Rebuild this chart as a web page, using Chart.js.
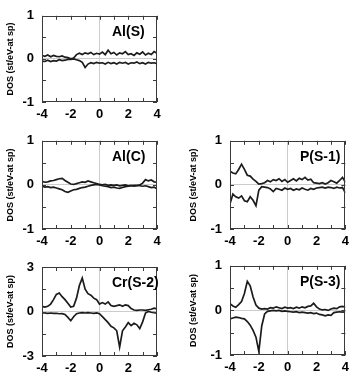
<!DOCTYPE html>
<html>
<head>
<meta charset="utf-8">
<script src="https://cdn.jsdelivr.net/npm/chart.js@4.4.1/dist/chart.umd.min.js"></script>
<style>
  body { margin: 0; background: #fff; }
  .panel { position: absolute; }
</style>
</head>
<body>
<div class="panel" style="left:0px;top:0px;width:175px;height:125px"><canvas id="alS"></canvas></div>
<div class="panel" style="left:0px;top:125px;width:175px;height:125px"><canvas id="alC"></canvas></div>
<div class="panel" style="left:0px;top:250px;width:175px;height:124px"><canvas id="crS2"></canvas></div>
<div class="panel" style="left:175px;top:125px;width:179px;height:125px"><canvas id="pS1"></canvas></div>
<div class="panel" style="left:175px;top:250px;width:179px;height:124px"><canvas id="pS3"></canvas></div>
<script>
// energy grid (eV), shared by every panel
const energy = [-4.0, -3.8, -3.6, -3.4, -3.2, -3.0, -2.8, -2.6, -2.4, -2.2, -2.0, -1.8, -1.6, -1.4, -1.2, -1.0, -0.8, -0.6, -0.4, -0.2,
  0.0, 0.2, 0.4, 0.6, 0.8, 1.0, 1.2, 1.4, 1.6, 1.8, 2.0, 2.2, 2.4, 2.6, 2.8, 3.0, 3.2, 3.4, 3.6, 3.8, 4.0];

const xTicks = [-4, -2, 0, 2, 4];
const yTicksSmall = [-1, 0, 1];
const yTicksCr = [-3, 0, 3];

// Al(S)
const alSUp = [0.08, 0.06, 0.09, 0.05, 0.08, 0.06, 0.05, 0.07, 0.04, 0.03, 0.0, 0.02, 0.1, 0.13, 0.1, 0.14, 0.12, 0.15, 0.1, 0.13,
  0.11, 0.16, 0.1, 0.2, 0.12, 0.15, 0.09, 0.14, 0.12, 0.17, 0.1, 0.12, 0.08, 0.14, 0.11, 0.16, 0.09, 0.13, 0.1, 0.17, 0.13];
const alSDown = [-0.05, -0.06, -0.03, -0.06, -0.04, -0.05, -0.02, -0.04, -0.03, -0.01, -0.01, 0.0, -0.02, -0.04, -0.08, -0.2, -0.12, -0.09, -0.11, -0.08,
  -0.1, -0.09, -0.12, -0.08, -0.11, -0.09, -0.12, -0.08, -0.1, -0.08, -0.12, -0.09, -0.1, -0.07, -0.11, -0.09, -0.12, -0.08, -0.1, -0.09, -0.11];

// Al(C)
const alCUp = [0.08, 0.06, 0.07, 0.09, 0.1, 0.12, 0.14, 0.15, 0.1, 0.06, 0.02, 0.01, 0.03, 0.05, 0.07, 0.06, 0.09, 0.07, 0.05, 0.03,
  0.01, 0.0, 0.01, -0.01, 0.0, -0.01, 0.0, -0.02, -0.01, 0.0, -0.02, -0.01, -0.03, -0.02, 0.0, 0.04, 0.12, 0.09, 0.11, 0.07, 0.06];
const alCDown = [-0.03, -0.05, -0.04, -0.06, -0.05, -0.07, -0.09, -0.11, -0.15, -0.17, -0.14, -0.11, -0.1, -0.08, -0.06, -0.05, -0.03, -0.01, 0.0, 0.01,
  0.0, -0.02, -0.03, -0.04, -0.06, -0.05, -0.07, -0.08, -0.06, -0.04, -0.03, -0.02, -0.01, -0.01, -0.02, -0.03, -0.02, -0.04, -0.06, -0.05, -0.09];

// Cr(S-2)
const crUp = [0.35, 0.3, 0.35, 0.5, 0.8, 1.15, 1.25, 1.0, 0.8, 0.55, 0.3, 0.35, 0.9, 1.75, 2.25, 1.5, 1.2, 1.1, 0.9, 0.8,
  0.5, 0.6, 0.5, 0.65, 0.4, 0.35, 0.4, 0.45, 0.35, 0.45, 0.4, 0.2, 0.1, 0.08, 0.1, 0.1, 0.08, 0.12, 0.15, 0.22, 0.18];
const crDown = [-0.1, -0.1, -0.12, -0.1, -0.13, -0.12, -0.15, -0.14, -0.2, -0.4, -0.62, -0.35, -0.15, -0.1, -0.08, -0.1, -0.08, -0.1, -0.12, -0.1,
  -0.15, -0.35, -0.55, -0.75, -1.0, -1.1, -1.3, -2.4, -1.3, -1.05, -0.75, -0.95, -0.8, -0.9, -1.15, -0.7, -0.1, 0.0, -0.05, -0.08, -0.12];

// P(S-1)
const pS1Up = [0.31, 0.27, 0.25, 0.35, 0.47, 0.35, 0.22, 0.2, 0.13, 0.08, 0.02, 0.03, 0.05, 0.1, 0.07, 0.12, 0.1, 0.14, 0.08, 0.12,
  0.06, 0.1, 0.14, 0.09, 0.15, 0.12, 0.17, 0.11, 0.13, 0.05, 0.04, 0.03, 0.05, 0.02, 0.05, 0.1, 0.07, 0.04, 0.1, 0.17, 0.06];
const pS1Down = [-0.43, -0.21, -0.27, -0.3, -0.25, -0.36, -0.38, -0.27, -0.35, -0.47, -0.12, -0.04, -0.05, -0.06, -0.09, -0.15, -0.08, -0.1, -0.12, -0.07,
  -0.1, -0.08, -0.12, -0.09, -0.11, -0.07, -0.1, -0.12, -0.08, -0.1, -0.07, -0.06, -0.05, -0.07, -0.05, -0.06, -0.08, -0.05, -0.07, -0.06, -0.18];

// P(S-3)
const pS3Up = [0.15, 0.1, 0.07, 0.13, 0.2, 0.38, 0.65, 0.55, 0.3, 0.12, 0.05, 0.03, 0.04, 0.03, 0.06, 0.05, 0.08, 0.06, 0.04, 0.07,
  0.05, 0.06, 0.04, 0.07, 0.05, 0.08, 0.06, 0.09, 0.1, 0.16, 0.08, 0.03, 0.01, 0.02, 0.0, 0.03, 0.05, 0.04, 0.08, 0.09, 0.07];
const pS3Down = [-0.19, -0.17, -0.15, -0.16, -0.18, -0.19, -0.25, -0.33, -0.45, -0.6, -0.92, -0.35, -0.08, -0.02, -0.01, 0.0, -0.01, 0.0, -0.02, -0.01,
  -0.02, -0.03, -0.04, -0.03, -0.05, -0.04, -0.05, -0.06, -0.05, -0.07, -0.06, -0.09, -0.1, -0.12, -0.1, -0.11, -0.05, -0.04, -0.03, -0.04, -0.03];

const FONT = "'Liberation Sans', Arial, Helvetica, sans-serif";
const INK = "#1c1c1c";

// frame + inward tick marks (gnuplot look)
const framePlugin = {
  id: "frame",
  afterDatasetsDraw(chart) {
    const { ctx, chartArea: a, scales } = chart;
    ctx.save();
    ctx.strokeStyle = "#3a3a3a";
    ctx.lineWidth = 1;
    const len = 4;
    ctx.beginPath();
    scales.x.ticks.forEach((t) => {
      const px = Math.round(scales.x.getPixelForValue(t.value)) + 0.5;
      ctx.moveTo(px, a.bottom); ctx.lineTo(px, a.bottom - len);
      ctx.moveTo(px, a.top); ctx.lineTo(px, a.top + len);
    });
    scales.y.ticks.forEach((t) => {
      const py = Math.round(scales.y.getPixelForValue(t.value)) + 0.5;
      ctx.moveTo(a.left, py); ctx.lineTo(a.left + len, py);
      ctx.moveTo(a.right, py); ctx.lineTo(a.right - len, py);
    });
    ctx.stroke();
    ctx.strokeRect(Math.round(a.left) + 0.5, Math.round(a.top) + 0.5,
      Math.round(a.right - a.left) - 1, Math.round(a.bottom - a.top) - 1);
    ctx.restore();
  },
};

// site name in the upper right of each panel
const namePlugin = {
  id: "siteName",
  afterDraw(chart, args, opts) {
    const { ctx, chartArea: a } = chart;
    ctx.save();
    ctx.fillStyle = "#000";
    ctx.font = "bold 14px " + FONT;
    ctx.textAlign = "left";
    ctx.textBaseline = "alphabetic";
    ctx.fillText(opts.text, a.left + 70, a.top + 20);
    ctx.restore();
  },
};

function makePanel(id, name, up, down, yMax, yStep, yLabels, box) {
  const ctx = document.getElementById(id).getContext("2d");

  const line = (vals) => ({
    data: energy.map((e, i) => ({ x: e, y: vals[i] })),
    borderColor: INK,
    borderWidth: 1.7,
    pointRadius: 0,
    tension: 0,
    fill: false,
  });

  return new Chart(ctx, {
    type: "line",
    data: { datasets: [line(up), line(down)] },
    plugins: [framePlugin, namePlugin],
    options: {
      responsive: true,
      maintainAspectRatio: false,
      animation: false,
      layout: { padding: { left: box.padL, top: box.top, right: box.right, bottom: 0 } },
      plugins: {
        legend: { display: false },
        tooltip: { enabled: false },
        siteName: { text: name },
      },
      scales: {
        x: {
          type: "linear",
          min: -4,
          max: 4,
          afterFit: (s) => { s.height = box.xh; },
          afterBuildTicks: (s) => {
            s.ticks = [-4, -3, -2, -1, 0, 1, 2, 3, 4].map((v) => ({ value: v }));
          },
          border: { display: false },
          grid: {
            drawTicks: false,
            color: (c) => (c.tick && c.tick.value === 0 ? "#cccccc" : "rgba(0,0,0,0)"),
          },
          ticks: {
            autoSkip: false,
            maxRotation: 0,
            padding: 5,
            color: "#000",
            font: { family: FONT, size: 13, weight: "bold" },
            callback: (v) => (xTicks.includes(v) ? String(v) : ""),
          },
        },
        y: {
          type: "linear",
          min: -yMax,
          max: yMax,
          afterFit: (s) => { s.width = box.yw; },
          afterBuildTicks: (s) => {
            const t = [];
            for (let v = -yMax; v <= yMax + 1e-9; v += yStep) t.push({ value: Math.round(v * 100) / 100 });
            s.ticks = t;
          },
          border: { display: false },
          grid: {
            drawTicks: false,
            color: (c) => (c.tick && c.tick.value === 0 ? "#cccccc" : "rgba(0,0,0,0)"),
          },
          ticks: {
            padding: 8,
            color: "#000",
            font: { family: FONT, size: 13, weight: "bold" },
            callback: (v) => (yLabels.includes(v) ? String(v) : ""),
          },
          title: {
            display: true,
            text: "DOS (st/eV-at sp)",
            color: "#000",
            padding: 0,
            font: { family: FONT, size: 9, weight: "bold" },
          },
        },
      },
    },
  });
}

makePanel("alS", "Al(S)", alSUp, alSDown, 1, 0.5, yTicksSmall, { padL: 5, yw: 37, top: 14, right: 18, xh: 23 });
makePanel("alC", "Al(C)", alCUp, alCDown, 1, 0.5, yTicksSmall, { padL: 5, yw: 37, top: 14, right: 18, xh: 21 });
makePanel("crS2", "Cr(S-2)", crUp, crDown, 3, 1.5, yTicksCr, { padL: 5, yw: 37, top: 17, right: 18, xh: 18 });
makePanel("pS1", "P(S-1)", pS1Up, pS1Down, 1, 0.5, yTicksSmall, { padL: 13, yw: 42, top: 14, right: 8, xh: 21 });
makePanel("pS3", "P(S-3)", pS3Up, pS3Down, 1, 0.5, yTicksSmall, { padL: 13, yw: 42, top: 15, right: 8, xh: 19 });
</script>
</body>
</html>
